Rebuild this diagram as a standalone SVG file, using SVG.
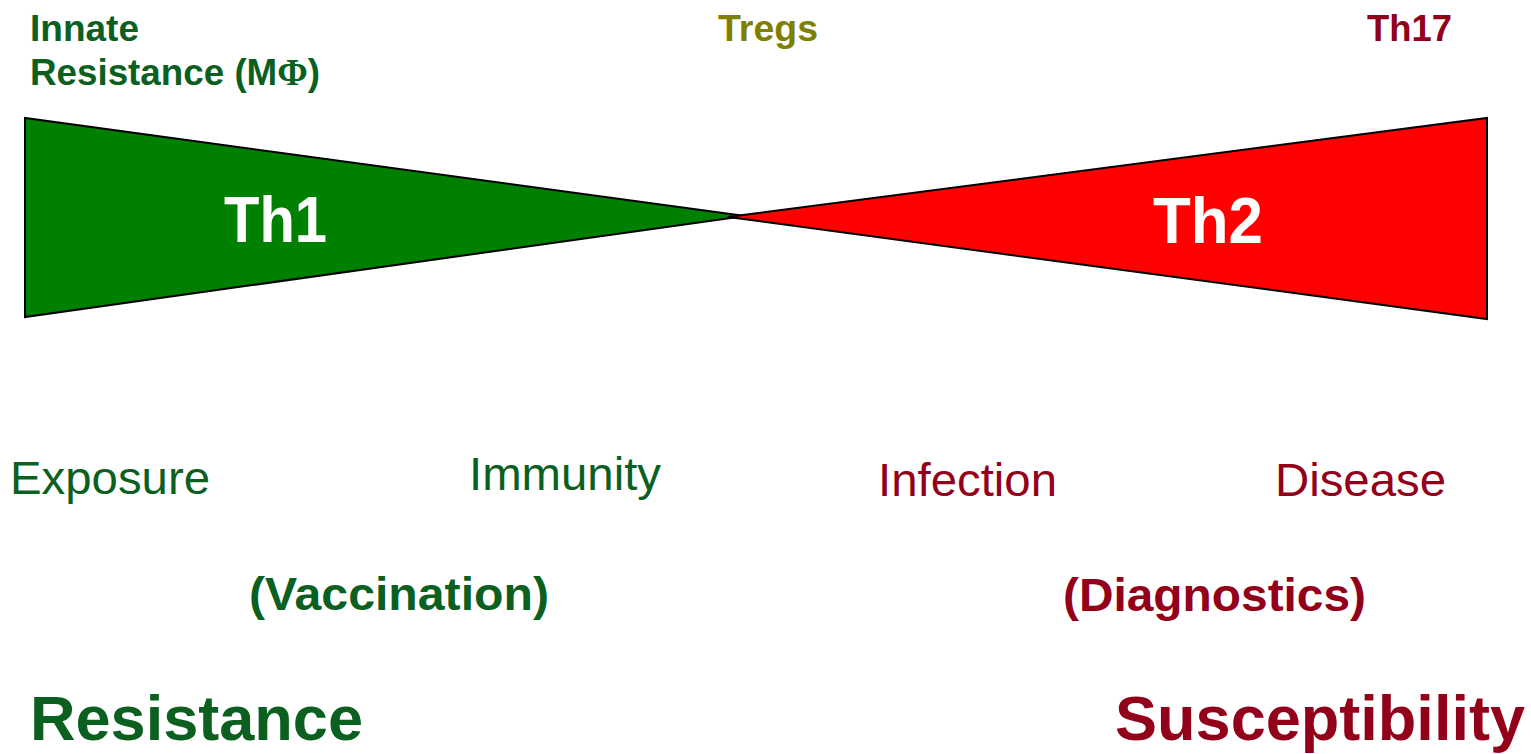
<svg xmlns="http://www.w3.org/2000/svg" width="1531" height="754" viewBox="0 0 1531 754">
<style>
text{font-family:"Liberation Sans",Arial,sans-serif}
.b{font-weight:bold}
.g{fill:#0B5F1F}
.r{fill:#93001A}
.o{fill:#808000}
.w{fill:#FFFFFF}
.tri{stroke:#000;stroke-width:2;stroke-linejoin:miter}
</style>
<rect width="1531" height="754" fill="#fff"/>
<g id="th1">
<polygon class="tri" points="25,118 25,317 745,216" fill="#008000"/>
<text class="b w" x="224" y="242" font-size="64" textLength="103" lengthAdjust="spacingAndGlyphs">Th1</text>
</g>
<g id="th2">
<polygon class="tri" points="1487,118 1487,319 728,217" fill="#FF0000"/>
<text class="b w" x="1153" y="243" font-size="64" textLength="110" lengthAdjust="spacingAndGlyphs">Th2</text>
</g>
<g id="innate">
<text class="b g" x="30" y="41" font-size="37">Innate</text>
<text class="b g" x="30" y="85" font-size="37" textLength="290" lengthAdjust="spacingAndGlyphs">Resistance (M<tspan font-family="'Liberation Serif',serif">Φ</tspan>)</text>
</g>
<g id="tregs"><text class="b o" x="718" y="41" font-size="37" textLength="100" lengthAdjust="spacingAndGlyphs">Tregs</text></g>
<g id="th17"><text class="b r" x="1367" y="41" font-size="37" textLength="85" lengthAdjust="spacingAndGlyphs">Th17</text></g>
<g id="exposure"><text class="g" x="10" y="494" font-size="46" textLength="200" lengthAdjust="spacingAndGlyphs">Exposure</text></g>
<g id="immunity"><text class="g" x="469" y="490" font-size="46" textLength="192" lengthAdjust="spacingAndGlyphs">Immunity</text></g>
<g id="infection"><text class="r" x="878" y="496" font-size="46" textLength="179" lengthAdjust="spacingAndGlyphs">Infection</text></g>
<g id="disease"><text class="r" x="1275" y="496" font-size="46" textLength="171" lengthAdjust="spacingAndGlyphs">Disease</text></g>
<g id="vaccination"><text class="b g" x="249" y="610" font-size="46" textLength="300" lengthAdjust="spacingAndGlyphs">(Vaccination)</text></g>
<g id="diagnostics"><text class="b r" x="1063" y="611" font-size="46" textLength="303" lengthAdjust="spacingAndGlyphs">(Diagnostics)</text></g>
<g id="resistance"><text class="b g" x="30" y="740" font-size="63" textLength="333" lengthAdjust="spacingAndGlyphs">Resistance</text></g>
<g id="susceptibility"><text class="b r" x="1115" y="740" font-size="63" textLength="410" lengthAdjust="spacingAndGlyphs">Susceptibility</text></g>
<g id="connectors"></g>
</svg>
